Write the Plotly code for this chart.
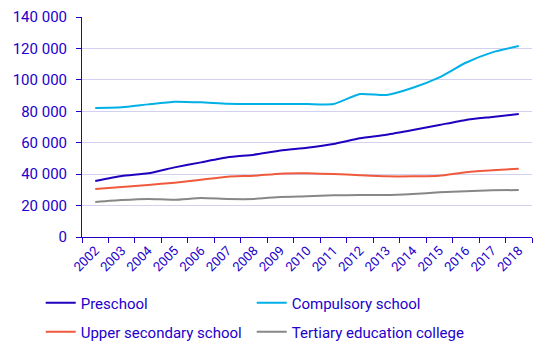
import plotly.graph_objects as go

years = [str(y) for y in range(2002, 2019)]
preschool = [35600, 38800, 40500, 44300, 47500, 50700, 52400, 55000, 56800, 59200,
             62800, 65100, 68100, 71300, 74500, 76400, 78300]
compulsory = [82100, 82500, 84400, 86100, 85700, 84800, 84600, 84600, 84600, 84600,
              91000, 90400, 95000, 101600, 110900, 117500, 121500]
upper_secondary = [30500, 31800, 33100, 34600, 36500, 38400, 39000, 40300, 40500, 40100,
                   39300, 38600, 38600, 39000, 41200, 42400, 43500]
tertiary = [22300, 23500, 24200, 23700, 24800, 24200, 24200, 25500, 25900, 26500,
            26700, 26700, 27400, 28400, 29100, 29700, 29900]

names = ["Preschool", "Compulsory school", "Upper secondary school", "Tertiary education college"]
colors = ["#1e00be", "#00b0e6", "#f05a3c", "#878787"]
series = [preschool, compulsory, upper_secondary, tertiary]
legends = ["legend", "legend2", "legend3", "legend4"]

txt = "#2200cc"
fig = go.Figure()
for n, c, s, lg in zip(names, colors, series, legends):
    fig.add_trace(go.Scatter(x=years, y=s, name=n, mode="lines",
                             line=dict(color=c, width=2, shape="spline", smoothing=0.5),
                             legend=lg))

legend_common = dict(orientation="h", xanchor="left", yanchor="middle",
                     xref="container", yref="container",
                     font=dict(family="Roboto", size=15, color=txt),
                     bgcolor="rgba(0,0,0,0)", itemwidth=30)

col1 = 0.074
col2 = col1 + 211 / 550
row1 = 1 - 303 / 354
row2 = 1 - 332 / 354

fig.update_layout(
    width=550, height=354,
    margin=dict(l=82, r=18, t=17, b=117, autoexpand=False),
    paper_bgcolor="white", plot_bgcolor="white",
    separators=". ",
    font=dict(family="Roboto", size=15, color=txt),
    showlegend=True,
    legend=dict(**legend_common, x=col1, y=row1),
    legend2=dict(**legend_common, x=col2, y=row1),
    legend3=dict(**legend_common, x=col1, y=row2),
    legend4=dict(**legend_common, x=col2, y=row2),
    xaxis=dict(type="category", range=[-0.5, len(years) - 0.5],
               tickson="boundaries", ticks="outside", ticklen=5,
               tickcolor=txt, showline=True, linecolor=txt, linewidth=1,
               showgrid=False, tickangle=-45, automargin=False,
               tickfont=dict(family="Roboto", size=13, color=txt)),
    yaxis=dict(range=[0, 140000], dtick=20000, tickformat=",d", ticks="outside",
               ticklen=5, tickcolor=txt, showline=True, linecolor=txt, linewidth=1,
               gridcolor="#d2d2f0", gridwidth=1, zeroline=False, automargin=False,
               tickfont=dict(family="Roboto", size=15, color=txt),
               ticklabelstandoff=6),
)

fig.write_html("out.html")
